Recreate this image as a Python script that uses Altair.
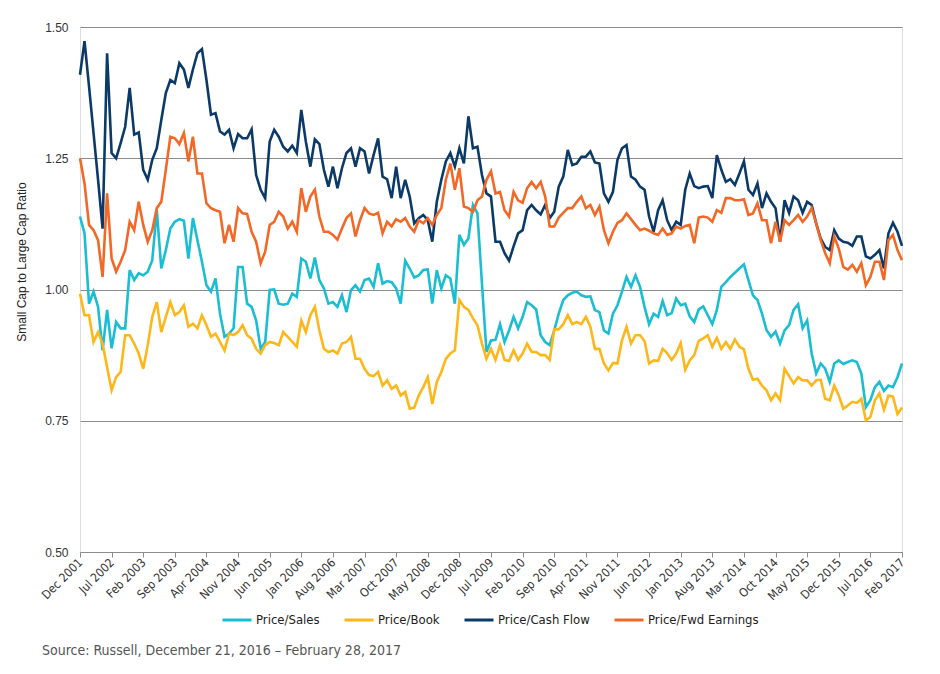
import json
import altair as alt
import pandas as pd

series_names = ["Price/Sales", "Price/Book", "Price/Cash Flow", "Price/Fwd Earnings"]
series_colors = ["#1bbdd2", "#fdb71a", "#0b3a68", "#f26826"]

tick_labels = ["Dec 2001", "Jul 2002", "Feb 2003", "Sep 2003", "Apr 2004", "Nov 2004",
               "Jun 2005", "Jan 2006", "Aug 2006", "Mar 2007", "Oct 2007", "May 2008",
               "Dec 2008", "Jul 2009", "Feb 2010", "Sep 2010", "Apr 2011", "Nov 2011",
               "Jun 2012", "Jan 2013", "Aug 2013", "Mar 2014", "Oct 2014", "May 2015",
               "Dec 2015", "Jul 2016", "Feb 2017"]

price_sales = [
    1.139, 1.107, 0.973, 0.996, 0.967, 0.884, 0.961, 0.888, 0.938, 0.926,
    0.926, 1.037, 1.018, 1.031, 1.027, 1.034, 1.056, 1.151, 1.040, 1.075,
    1.116, 1.129, 1.134, 1.131, 1.059, 1.136, 1.094, 1.053, 1.008, 0.996,
    1.021, 0.954, 0.910, 0.916, 0.926, 1.043, 1.043, 0.973, 0.967, 0.941,
    0.887, 0.900, 0.999, 1.000, 0.973, 0.971, 0.973, 0.992, 0.986, 1.059,
    1.053, 1.021, 1.061, 1.018, 1.002, 0.973, 0.976, 0.967, 0.989, 0.957,
    0.999, 1.008, 0.996, 1.018, 1.021, 1.005, 1.050, 1.011, 1.016, 1.014,
    1.002, 0.973, 1.055, 1.040, 1.023, 1.027, 1.037, 1.038, 0.973, 1.037,
    1.002, 1.027, 1.021, 0.973, 1.104, 1.085, 1.097, 1.161, 1.145, 1.011,
    0.881, 0.903, 0.904, 0.934, 0.900, 0.922, 0.948, 0.926, 0.948, 0.976,
    0.970, 0.962, 0.913, 0.900, 0.894, 0.922, 0.954, 0.980, 0.989, 0.994,
    0.996, 0.989, 0.986, 0.987, 0.961, 0.957, 0.922, 0.916, 0.954, 0.970,
    0.996, 1.024, 1.005, 1.027, 1.005, 0.967, 0.934, 0.954, 0.948, 0.978,
    0.951, 0.955, 0.983, 0.970, 0.973, 0.949, 0.938, 0.962, 0.968, 0.951,
    0.934, 0.961, 1.005, 1.014, 1.024, 1.032, 1.040, 1.048, 1.018, 0.989,
    0.980, 0.954, 0.923, 0.910, 0.920, 0.897, 0.922, 0.932, 0.961, 0.972,
    0.926, 0.941, 0.878, 0.840, 0.859, 0.849, 0.824, 0.859, 0.865, 0.858,
    0.862, 0.865, 0.862, 0.840, 0.776, 0.789, 0.814, 0.824, 0.807, 0.817,
    0.814, 0.833, 0.859]

price_book = [
    0.992, 0.951, 0.951, 0.900, 0.919, 0.897, 0.852, 0.808, 0.833, 0.843,
    0.913, 0.913, 0.897, 0.878, 0.849, 0.894, 0.948, 0.976, 0.919, 0.948,
    0.976, 0.951, 0.957, 0.970, 0.929, 0.935, 0.926, 0.951, 0.932, 0.910,
    0.916, 0.900, 0.884, 0.916, 0.913, 0.919, 0.932, 0.913, 0.906, 0.887,
    0.878, 0.894, 0.900, 0.898, 0.894, 0.919, 0.910, 0.900, 0.891, 0.941,
    0.919, 0.951, 0.967, 0.922, 0.887, 0.881, 0.884, 0.878, 0.897, 0.900,
    0.910, 0.868, 0.868, 0.849, 0.837, 0.835, 0.843, 0.817, 0.827, 0.811,
    0.817, 0.798, 0.805, 0.773, 0.775, 0.798, 0.814, 0.833, 0.782, 0.824,
    0.843, 0.868, 0.878, 0.884, 0.980, 0.967, 0.961, 0.945, 0.932, 0.897,
    0.868, 0.887, 0.866, 0.894, 0.866, 0.864, 0.884, 0.866, 0.878, 0.897,
    0.881, 0.881, 0.875, 0.875, 0.866, 0.924, 0.924, 0.934, 0.951, 0.934,
    0.938, 0.934, 0.948, 0.929, 0.887, 0.887, 0.859, 0.846, 0.860, 0.859,
    0.903, 0.929, 0.897, 0.913, 0.913, 0.902, 0.859, 0.865, 0.864, 0.887,
    0.879, 0.866, 0.878, 0.898, 0.847, 0.865, 0.875, 0.902, 0.907, 0.913,
    0.891, 0.908, 0.887, 0.900, 0.887, 0.905, 0.891, 0.886, 0.849, 0.828,
    0.830, 0.817, 0.808, 0.789, 0.802, 0.789, 0.849, 0.835, 0.821, 0.833,
    0.827, 0.827, 0.817, 0.827, 0.828, 0.792, 0.789, 0.817, 0.798, 0.773,
    0.779, 0.786, 0.784, 0.792, 0.751, 0.757, 0.789, 0.802, 0.771, 0.798,
    0.796, 0.763, 0.775]

price_cash_flow = [
    1.409, 1.473, 1.387, 1.298, 1.209, 1.116, 1.450, 1.260, 1.250, 1.279,
    1.310, 1.384, 1.295, 1.299, 1.228, 1.209, 1.247, 1.269, 1.323, 1.374,
    1.399, 1.393, 1.431, 1.419, 1.384, 1.419, 1.450, 1.458, 1.399, 1.333,
    1.336, 1.301, 1.295, 1.304, 1.269, 1.296, 1.288, 1.288, 1.305, 1.218,
    1.190, 1.174, 1.282, 1.304, 1.291, 1.272, 1.263, 1.274, 1.260, 1.342,
    1.282, 1.234, 1.286, 1.277, 1.228, 1.196, 1.234, 1.193, 1.231, 1.260,
    1.269, 1.234, 1.269, 1.263, 1.221, 1.256, 1.288, 1.215, 1.210, 1.174,
    1.234, 1.174, 1.209, 1.177, 1.126, 1.136, 1.142, 1.132, 1.091, 1.167,
    1.209, 1.244, 1.260, 1.234, 1.269, 1.240, 1.330, 1.269, 1.272, 1.218,
    1.183, 1.177, 1.091, 1.091, 1.069, 1.055, 1.082, 1.107, 1.113, 1.151,
    1.161, 1.151, 1.143, 1.161, 1.136, 1.148, 1.196, 1.215, 1.266, 1.237,
    1.240, 1.253, 1.253, 1.263, 1.242, 1.240, 1.183, 1.167, 1.186, 1.247,
    1.269, 1.275, 1.215, 1.209, 1.196, 1.190, 1.139, 1.110, 1.151, 1.170,
    1.132, 1.113, 1.129, 1.123, 1.190, 1.221, 1.197, 1.193, 1.196, 1.197,
    1.174, 1.256, 1.228, 1.205, 1.210, 1.199, 1.221, 1.244, 1.190, 1.180,
    1.202, 1.155, 1.183, 1.167, 1.155, 1.091, 1.170, 1.146, 1.177, 1.170,
    1.146, 1.167, 1.161, 1.126, 1.097, 1.081, 1.075, 1.113, 1.097, 1.091,
    1.089, 1.083, 1.101, 1.101, 1.063, 1.059, 1.066, 1.075, 1.040, 1.107,
    1.127, 1.110, 1.083]

price_fwd_earnings = [
    1.250, 1.202, 1.123, 1.113, 1.094, 1.024, 1.183, 1.059, 1.034, 1.053,
    1.075, 1.129, 1.113, 1.167, 1.123, 1.091, 1.113, 1.155, 1.167, 1.228,
    1.291, 1.288, 1.277, 1.298, 1.244, 1.291, 1.221, 1.221, 1.164, 1.155,
    1.151, 1.148, 1.088, 1.123, 1.091, 1.155, 1.145, 1.144, 1.110, 1.091,
    1.050, 1.072, 1.123, 1.129, 1.148, 1.139, 1.116, 1.129, 1.110, 1.193,
    1.148, 1.177, 1.190, 1.139, 1.110, 1.110, 1.104, 1.095, 1.116, 1.136,
    1.145, 1.101, 1.132, 1.155, 1.145, 1.142, 1.146, 1.107, 1.129, 1.120,
    1.134, 1.129, 1.136, 1.120, 1.110, 1.132, 1.126, 1.136, 1.123, 1.142,
    1.155, 1.209, 1.240, 1.190, 1.231, 1.158, 1.155, 1.148, 1.170, 1.177,
    1.209, 1.225, 1.183, 1.186, 1.151, 1.139, 1.186, 1.170, 1.165, 1.193,
    1.205, 1.193, 1.205, 1.177, 1.120, 1.120, 1.137, 1.146, 1.155, 1.155,
    1.167, 1.177, 1.155, 1.161, 1.142, 1.158, 1.113, 1.088, 1.110, 1.127,
    1.132, 1.145, 1.134, 1.123, 1.113, 1.116, 1.112, 1.107, 1.104, 1.116,
    1.104, 1.107, 1.120, 1.116, 1.121, 1.123, 1.088, 1.137, 1.139, 1.137,
    1.129, 1.151, 1.146, 1.174, 1.174, 1.170, 1.170, 1.172, 1.142, 1.145,
    1.164, 1.132, 1.132, 1.088, 1.129, 1.091, 1.132, 1.123, 1.132, 1.142,
    1.129, 1.139, 1.155, 1.126, 1.094, 1.069, 1.050, 1.101, 1.078, 1.043,
    1.038, 1.047, 1.034, 1.050, 1.008, 1.024, 1.053, 1.053, 1.018, 1.094,
    1.104, 1.075, 1.056]

y_title = "Small Cap to Large Cap Ratio"
source_text = "Source: Russell, December 21, 2016 \u2013 February 28, 2017"

COND = "DejaVu Sans Condensed"
ARIAL = "Liberation Sans"

rows = []
for name, vals in zip(series_names, [price_sales, price_book, price_cash_flow, price_fwd_earnings]):
    for i, v in enumerate(vals):
        rows.append({"month": i, "series": name, "order": series_names.index(name), "value": v})
df = pd.DataFrame(rows)

n_months = len(price_sales) - 1
label_expr = json.dumps(tick_labels) + "[round(datum.value / 7)]"

lines = alt.Chart(df).mark_line(strokeWidth=2.6, strokeJoin="miter").encode(
    x=alt.X("month:Q",
            scale=alt.Scale(domain=[0, n_months], nice=False, zero=False),
            axis=alt.Axis(values=list(range(0, n_months + 1, 7)), labelExpr=label_expr,
                          labelAngle=-45, labelAlign="right", labelBaseline="middle",
                          labelFont=COND, labelFontSize=12, labelColor="#333333",
                          labelPadding=3, tickSize=5, tickColor="#8c8c8c",
                          domainColor="#8c8c8c", domainWidth=1, grid=False, title=None,
                          labelOverlap=False, labelBound=False, labelFlush=False)),
    y=alt.Y("value:Q",
            scale=alt.Scale(domain=[0.5, 1.5], nice=False, zero=False),
            axis=alt.Axis(values=[0.5, 0.75, 1.0, 1.25, 1.5], format=".2f",
                          grid=True, gridColor="#8c8c8c", gridWidth=1,
                          domain=False, ticks=False,
                          labelFont=ARIAL, labelFontSize=12, labelColor="#333333",
                          labelPadding=12, title=None)),
    color=alt.Color("series:N",
                    scale=alt.Scale(domain=series_names, range=series_colors),
                    sort=series_names,
                    legend=alt.Legend(orient="none", legendX=141, legendY=577,
                                      direction="horizontal", columns=4, title=None,
                                      symbolType="stroke", symbolSize=841,
                                      symbolStrokeWidth=3, labelFont=COND,
                                      labelFontSize=13, labelColor="#222222",
                                      columnPadding=18, labelOffset=3)),
    order=alt.Order("order:Q"),
    detail="series:N",
)

ytitle = alt.Chart(pd.DataFrame({"t": [y_title]})).mark_text(
    align="center", baseline="middle", angle=270, font=ARIAL, fontSize=12, color="#222222"
).encode(x=alt.value(-58), y=alt.value(235), text="t:N")

src = alt.Chart(pd.DataFrame({"t": [source_text]})).mark_text(
    align="left", baseline="middle", font=COND, fontSize=14, color="#555555"
).encode(x=alt.value(-38), y=alt.value(624), text="t:N")

chart = alt.layer(lines, ytitle, src).properties(
    width=822, height=525,
    autosize=alt.AutoSizeParams(type="none"),
    padding={"left": 72, "top": 19, "right": 30, "bottom": 113},
).configure_view(stroke=None).configure(background="white")

chart.save("out.html", embed_options={"renderer": "svg", "actions": False})
